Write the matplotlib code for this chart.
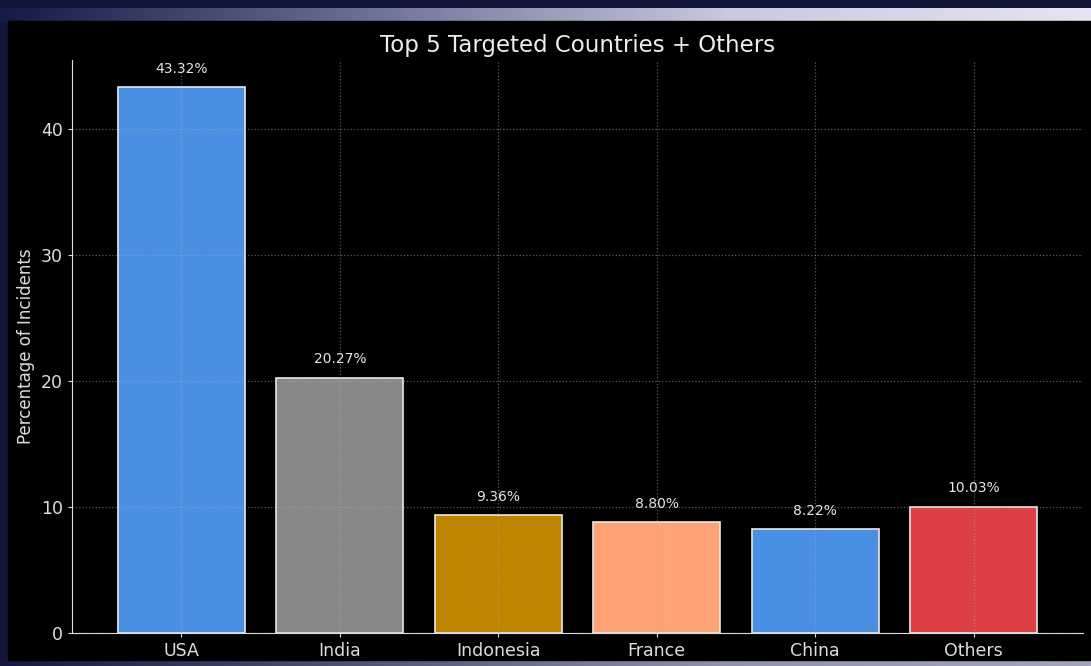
import numpy as np
import matplotlib
matplotlib.use("Agg")
import matplotlib.pyplot as plt
from matplotlib.colors import LinearSegmentedColormap

countries = ["USA", "India", "Indonesia", "France", "China", "Others"]
percentages = [43.32, 20.27, 9.36, 8.80, 8.22, 10.03]
bar_colors = ["#4a90e2", "#888888", "#bf8400", "#ffa275", "#4a90e2", "#dd3f46"]

plt.style.use("dark_background")
W, H = 1091, 666
fig = plt.figure(figsize=(W / 100, H / 100), dpi=100)
fig.patch.set_facecolor("#11163a")

# background frame: gradient strips + black panel
bg = fig.add_axes([0, 0, 1, 1], zorder=-5)
bg.set_xlim(0, W)
bg.set_ylim(H, 0)
bg.axis("off")
grad = np.linspace(0, 1, 256).reshape(1, -1)
cmap = LinearSegmentedColormap.from_list("frame", ["#141a44", "#6a7096", "#c8c9dd", "#e4e4f2"])
bg.imshow(grad, extent=[0, W, 21, 8], cmap=cmap, aspect="auto")
bg.imshow(grad, extent=[0, W, H, 660], cmap=cmap, aspect="auto", alpha=0.7)
bg.add_patch(plt.Rectangle((8, 21), W - 8, 639, color="black"))

ax = fig.add_axes([72 / W, 1 - 633 / H, (1083 - 72) / W, (633 - 60) / H])
ax.set_facecolor("black")
x = np.arange(len(countries))
bars = ax.bar(x, percentages, color=bar_colors, edgecolor="#e8e8e8", linewidth=1.2, zorder=2)
for b, v in zip(bars, percentages):
    ax.text(b.get_x() + b.get_width() / 2, v + 0.9, f"{v:.2f}%", ha="center", va="bottom",
            color="#e6e6e6", fontsize=10)

ax.set_xticks(x)
ax.set_xticklabels(countries, fontsize=12.5, color="#dddddd")
ax.set_yticks([0, 10, 20, 30, 40])
ax.tick_params(axis="y", labelsize=12.5, colors="#dddddd", length=3)
ax.tick_params(axis="x", length=3, colors="#dddddd")
ax.set_ylabel("Percentage of Incidents", fontsize=12, color="#dddddd")
ax.set_title("Top 5 Targeted Countries + Others", fontsize=16.5, color="#eeeeee", pad=6)
ax.grid(True, linestyle=":", color="#b0b0b0", linewidth=0.9, alpha=0.5, zorder=3)
ax.set_axisbelow(False)
for s in ["top", "right"]:
    ax.spines[s].set_visible(False)
for s in ["left", "bottom"]:
    ax.spines[s].set_color("#dddddd")
    ax.spines[s].set_zorder(4)

fig.savefig("out.png", dpi=100, facecolor=fig.get_facecolor())
